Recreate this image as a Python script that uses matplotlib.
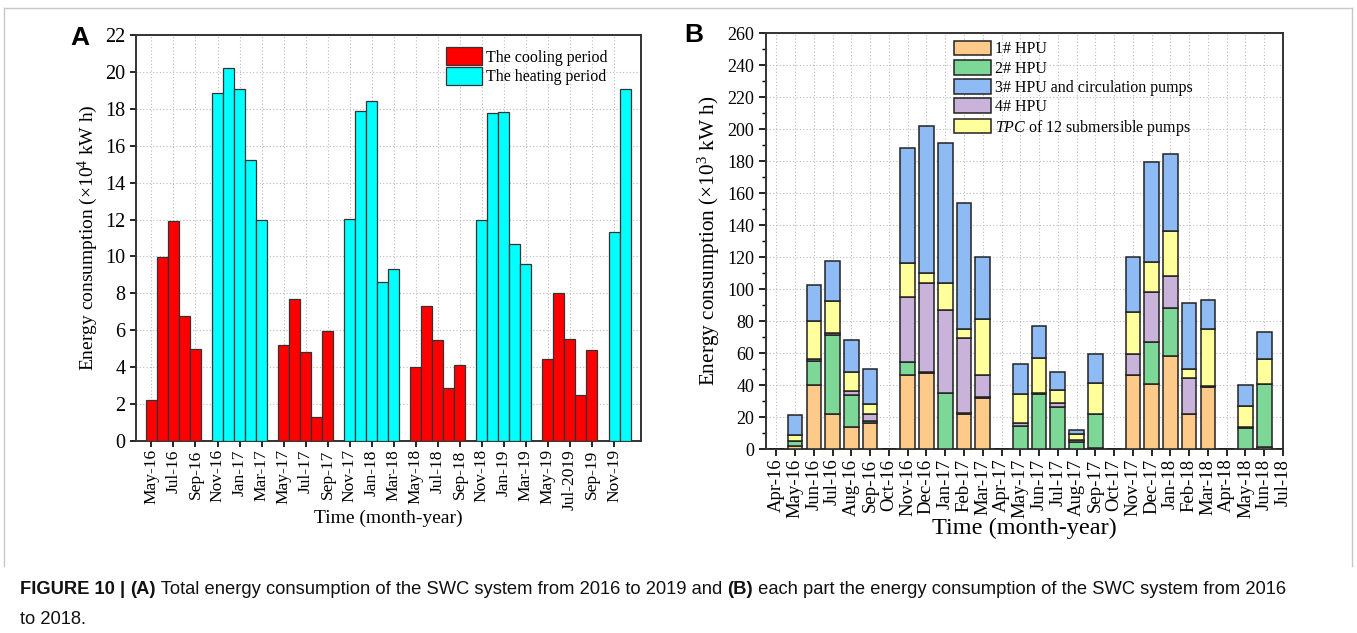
import matplotlib
matplotlib.use("Agg")
import matplotlib.pyplot as plt
import numpy as np
from matplotlib.patches import Patch
from matplotlib.lines import Line2D

plt.rcParams['font.family'] = ['Liberation Serif', 'DejaVu Serif']
plt.rcParams['mathtext.fontset'] = 'custom'
plt.rcParams['mathtext.rm'] = 'Liberation Serif'
plt.rcParams['mathtext.it'] = 'Liberation Serif:italic'

# ---------------- Panel A data ----------------
months_a = ["May-16", "Jun-16", "Jul-16", "Aug-16", "Sep-16", "Oct-16",
            "Nov-16", "Dec-16", "Jan-17", "Feb-17", "Mar-17", "Apr-17",
            "May-17", "Jun-17", "Jul-17", "Aug-17", "Sep-17", "Oct-17",
            "Nov-17", "Dec-17", "Jan-18", "Feb-18", "Mar-18", "Apr-18",
            "May-18", "Jun-18", "Jul-18", "Aug-18", "Sep-18", "Oct-18",
            "Nov-18", "Dec-18", "Jan-19", "Feb-19", "Mar-19", "Apr-19",
            "May-19", "Jun-19", "Jul-2019", "Aug-19", "Sep-19", "Oct-19",
            "Nov-19", "Dec-19"]
cooling = [2.2, 9.95, 11.9, 6.8, 5.0, 0, 0, 0, 0, 0, 0, 0,
           5.2, 7.7, 4.8, 1.3, 5.95, 0, 0, 0, 0, 0, 0, 0,
           4.0, 7.3, 5.5, 2.85, 4.1, 0, 0, 0, 0, 0, 0, 0,
           4.45, 8.0, 5.55, 2.5, 4.95, 0, 0, 0]
heating = [0, 0, 0, 0, 0, 0, 18.85, 20.2, 19.05, 15.2, 12.0, 0,
           0, 0, 0, 0, 0, 0, 12.05, 17.9, 18.4, 8.6, 9.3, 0,
           0, 0, 0, 0, 0, 0, 11.95, 17.75, 17.85, 10.7, 9.6, 0,
           0, 0, 0, 0, 0, 0, 11.35, 19.1]

# ---------------- Panel B data ----------------
months_b = ["Apr-16", "May-16", "Jun-16", "Jul-16", "Aug-16", "Sep-16", "Oct-16",
            "Nov-16", "Dec-16", "Jan-17", "Feb-17", "Mar-17", "Apr-17", "May-17",
            "Jun-17", "Jul-17", "Aug-17", "Sep-17", "Oct-17", "Nov-17", "Dec-17",
            "Jan-18", "Feb-18", "Mar-18", "Apr-18", "May-18", "Jun-18", "Jul-18"]
hpu1 = [0, 1.8, 40, 21.9, 13.8, 16.5, 0, 46, 47.5, 0, 21.6, 32, 0, 0,
        0, 0, 0, 0.6, 0, 46, 40.4, 58.3, 21.7, 38.8, 0, 0, 1.4, 0]
hpu2 = [0, 3.2, 15, 49.1, 19.8, 1, 0, 8.6, 0.7, 34.8, 0.7, 0.7, 0, 14.6,
        34.5, 26.2, 4.6, 21.1, 0, 0, 26.5, 30, 0, 0.8, 0, 13.3, 39.2, 0]
hpu4 = [0, 0.3, 1, 1.3, 2.5, 4.4, 0, 40.6, 55.6, 52.1, 46.9, 13.5, 0, 1.9,
        0.5, 2.3, 1, 0, 0, 13.2, 31, 20, 22.5, 0, 0, 0.5, 0, 0]
tpc = [0, 3.2, 23.8, 20.4, 11.9, 6.2, 0, 20.8, 6, 17.1, 5.6, 34.8, 0, 17.7,
       21.7, 8.2, 4, 19.8, 0, 26.6, 18.8, 27.7, 5.6, 35.4, 0, 13, 15.4, 0]
hpu3 = [0, 13, 23, 24.5, 20, 21.9, 0, 72.3, 92, 87, 79.2, 39.2, 0, 18.7,
        20.2, 11.2, 2.5, 17.9, 0, 34.2, 62.5, 48.4, 41.5, 18.3, 0, 13.1, 17.3, 0]

W, H = 1357, 633
fig = plt.figure(figsize=(W / 100, H / 100), dpi=100)

def ax_rect(l, t, r, b):
    return [l / W, 1 - b / H, (r - l) / W, (b - t) / H]

edge = '#333333'
grid_kw = dict(color='#bbbbbb', linestyle=(0, (1, 2)), linewidth=0.8)

# ---------------- Panel A ----------------
axA = fig.add_axes(ax_rect(136, 35, 641, 441))
xa = np.arange(len(months_a))
axA.bar(xa, cooling, width=1.0, color='#ff0000', edgecolor=edge, linewidth=0.9,
        label='The cooling period', zorder=3)
axA.bar(xa, heating, width=1.0, color='#00ffff', edgecolor=edge, linewidth=0.9,
        label='The heating period', zorder=3)
axA.set_xlim(-1.4, len(months_a) - 1 + 1.45)
axA.set_ylim(0, 22)
axA.set_yticks(np.arange(0, 23, 2))
axA.set_xticks(xa[::2])
axA.set_xticklabels(months_a[::2], rotation=90, fontsize=12.5)
axA.tick_params(axis='y', labelsize=14.5, direction='out', length=4, width=1.2)
axA.tick_params(axis='x', direction='out', length=4, width=1.2, pad=2)
axA.grid(True, **grid_kw)
axA.set_axisbelow(True)
for s in axA.spines.values():
    s.set_linewidth(1.4)
    s.set_color('#333333')
axA.set_ylabel('Energy consumption (×10$^4$ kW h)', fontsize=14, labelpad=4)
axA.set_xlabel('Time (month-year)', fontsize=14, labelpad=0)
axA.legend(loc='upper right', bbox_to_anchor=(0.947, 0.985), fontsize=11.5,
           frameon=False, handlelength=2.2, handleheight=1.3, borderaxespad=0.0,
           labelspacing=0.1, handletextpad=0.3)

# ---------------- Panel B ----------------
axB = fig.add_axes(ax_rect(766, 33, 1283, 449))
xb = np.arange(len(months_b))
c1, c2, c3, c4, c5 = '#fdca8a', '#7dd898', '#8fbbf5', '#c9b3da', '#ffff9c'
bw = 0.78
b0 = np.zeros(len(xb))
series = [(hpu1, c1), (hpu2, c2), (hpu4, c4), (tpc, c5), (hpu3, c3)]
for vals, col in series:
    v = np.array(vals, dtype=float)
    axB.bar(xb, v, width=bw, bottom=b0, color=col, edgecolor='#222222',
            linewidth=1.1, zorder=3)
    b0 = b0 + v
axB.set_xlim(-0.55, len(months_b) - 1)
axB.set_ylim(0, 260)
axB.set_yticks(np.arange(0, 261, 20))
axB.set_yticks(np.arange(10, 260, 20), minor=True)
axB.set_xticks(xb)
axB.set_xticklabels(months_b, rotation=90, fontsize=13.5)
axB.tick_params(axis='y', which='major', labelsize=13, direction='out', length=5, width=1.2)
axB.tick_params(axis='y', which='minor', direction='out', length=3, width=1.0)
axB.tick_params(axis='x', direction='out', length=5, width=1.2, pad=2)
axB.grid(True, which='major', **grid_kw)
axB.set_axisbelow(True)
for s in axB.spines.values():
    s.set_linewidth(1.4)
    s.set_color('#333333')
axB.set_ylabel('Energy consumption (×10$^3$ kW h)', fontsize=15.3, labelpad=4)
axB.set_xlabel('Time (month-year)', fontsize=17.5, labelpad=0)
handlesB = [Patch(facecolor=c, edgecolor='#222222', linewidth=1.1)
            for c in (c1, c2, c3, c4, c5)]
labelsB = ['1# HPU', '2# HPU', '3# HPU and circulation pumps', '4# HPU',
           '$\\it{TPC}$ of 12 submersible pumps']
axB.legend(handlesB, labelsB, loc='upper left', bbox_to_anchor=(0.345, 1.005),
           fontsize=11.5, frameon=False, handlelength=2.3, handleheight=1.05,
           labelspacing=0.15, handletextpad=0.3, borderaxespad=0.2)

# panel letters
fig.text(70 / W, 1 - 38 / H, 'A', fontsize=19, fontweight='bold',
         family=['Liberation Sans', 'DejaVu Sans'], va='center', ha='left')
fig.text(684 / W, 1 - 35 / H, 'B', fontsize=19, fontweight='bold',
         family=['Liberation Sans', 'DejaVu Sans'], va='center', ha='left')

# border lines
fig.add_artist(Line2D([4 / W, 4 / W], [1 - 566 / H, 1 - 8 / H], color='#c8c8c8', lw=1))
fig.add_artist(Line2D([4 / W, 1352 / W], [1 - 8 / H, 1 - 8 / H], color='#c8c8c8', lw=1))
fig.add_artist(Line2D([1352 / W, 1352 / W], [1 - 566 / H, 1 - 8 / H], color='#c8c8c8', lw=1))

# caption
cap_fam = ['Liberation Sans Narrow', 'Liberation Sans', 'DejaVu Sans']
pieces = [('FIGURE 10 | ', 'bold'), ('(A)', 'bold'),
          (' Total energy consumption of the SWC system from 2016 to 2019 and ', 'normal'),
          ('(B)', 'bold'),
          (' each part the energy consumption of the SWC system from 2016', 'normal')]
renderer = fig.canvas.get_renderer()
fs = 13
def total_width(fs):
    tot = 0
    for s, wt in pieces:
        t = fig.text(0, 0, s, fontsize=fs, fontweight=wt, family=cap_fam)
        tot += t.get_window_extent(renderer).width
        t.remove()
    return tot
tw = total_width(fs)
fs = fs * (1262 / tw)
x = 20
y = 1 - 590 / H
for s, wt in pieces:
    t = fig.text(x / W, y, s, fontsize=fs, fontweight=wt, family=cap_fam,
                 va='center', ha='left', color='#111111')
    x += t.get_window_extent(renderer).width
fig.text(20 / W, 1 - 619 / H, 'to 2018.', fontsize=fs, family=cap_fam,
         va='center', ha='left', color='#111111')

fig.savefig('out.png', dpi=100)
